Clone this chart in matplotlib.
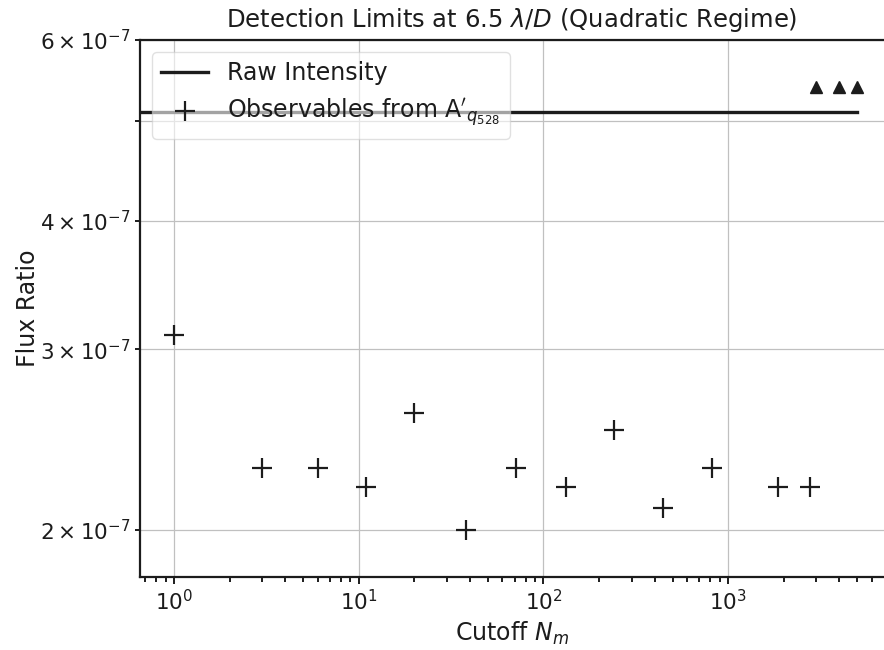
import numpy as np
import matplotlib
matplotlib.use('Agg')
import matplotlib.pyplot as plt

# cutoff values and detection limits
cutoffs = [1, 3, 6, 11, 20, 38, 71, 132, 241, 444, 818, 1860, 2760]
flux_obs = [3.1e-7, 2.3e-7, 2.3e-7, 2.2e-7, 2.6e-7, 2.0e-7, 2.3e-7,
            2.2e-7, 2.5e-7, 2.1e-7, 2.3e-7, 2.2e-7, 2.2e-7]

raw_x = [0.6, 5000]
raw_flux = [5.1e-7, 5.1e-7]

arrow_x = [3000, 4000, 5000]
arrow_y = [5.4e-7, 5.4e-7, 5.4e-7]

xlims = (10**-0.184, 10**3.844)
ylims = (1.8e-7, 6e-7)

def main():
    fig = plt.figure(figsize=(8.84, 6.5), dpi=100)
    ax = fig.add_axes([140/884., 1 - 577/650., 1 - 140/884., (577 - 40)/650.])

    col = '#1c1c1c'
    ax.plot(raw_x, raw_flux, '-', color=col, lw=2.4, label='Raw Intensity', zorder=3)
    ax.plot(cutoffs, flux_obs, '+', color=col, ms=15, mew=1.6,
            label=r"Observables from $\mathrm{A}'_{q_{528}}$", zorder=3)
    ax.plot(arrow_x, arrow_y, '^', color=col, ms=9, zorder=3)

    ax.set_xscale('log')
    ax.set_yscale('log')
    ax.set_xlim(xlims)
    ax.set_ylim(ylims)

    ax.xaxis.grid(True, which='major', color='#c0c0c0', lw=0.9)
    ax.yaxis.grid(True, which='both', color='#c0c0c0', lw=0.9)
    ax.set_axisbelow(True)

    for s in ['left', 'bottom', 'top']:
        ax.spines[s].set_color(col)
        ax.spines[s].set_linewidth(1.6)
    ax.spines['right'].set_visible(False)

    ax.tick_params(axis='both', which='both', labelsize=15.5, colors=col, width=1.4)
    ax.tick_params(axis='both', which='major', length=5)
    ax.tick_params(axis='both', which='minor', length=3.5)

    ax.set_xlabel(r'Cutoff $N_m$', fontsize=17, color=col, labelpad=4)
    ax.set_ylabel('Flux Ratio', fontsize=17, color=col, labelpad=0)
    ax.set_title(r'Detection Limits at 6.5 $\lambda/D$ (Quadratic Regime)', fontsize=17.5,
                 color=col, pad=9)

    leg = ax.legend(loc='upper left', fontsize=17, framealpha=0.6, edgecolor='#cccccc')
    for t in leg.get_texts():
        t.set_color(col)

    fig.savefig('out.png', dpi=100)
    plt.close(fig)

if __name__ == "__main__":
    main()
